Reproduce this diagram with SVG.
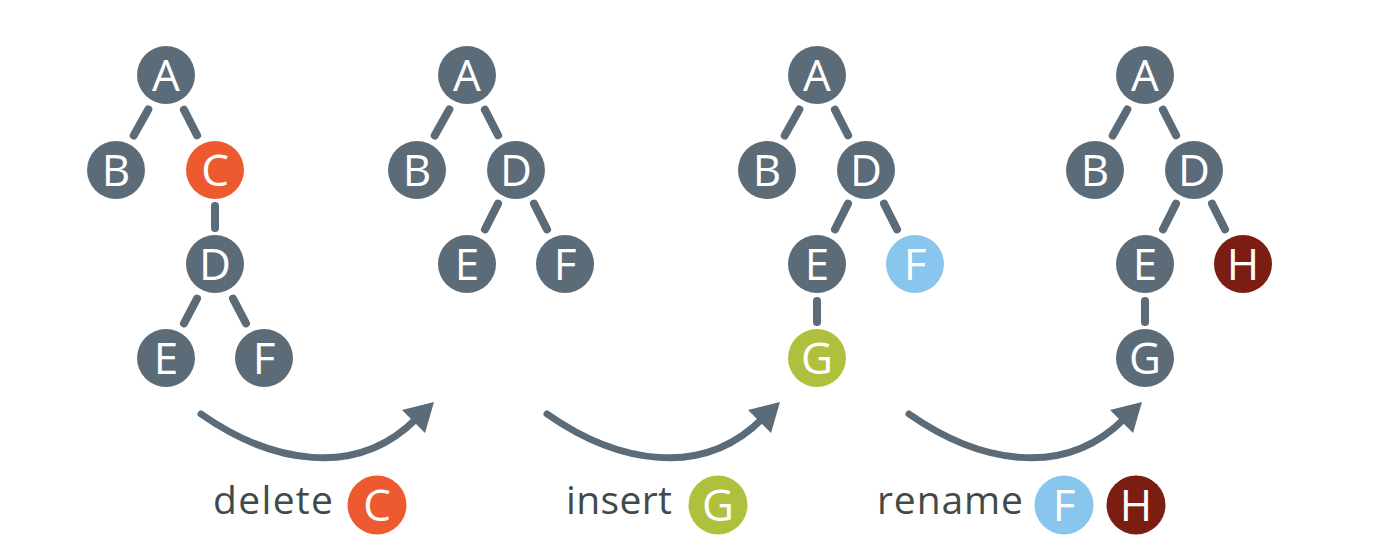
<svg xmlns="http://www.w3.org/2000/svg" width="1396" height="560" viewBox="0 0 1396 560">
<style>
.n{fill:#5c6b78}
.del{fill:#ee5a2f}
.ins{fill:#afc13c}
.old{fill:#89c6ee}
.new{fill:#7b1d10}
.lt{font-family:"Open Sans","Noto Sans","Liberation Sans",sans-serif;font-size:44px;font-weight:400;fill:#ffffff;text-anchor:middle}
.cap{font-family:"Open Sans","Noto Sans","Liberation Sans",sans-serif;font-size:39px;font-weight:400;fill:#3f4b49}
.e{stroke:#5c6b78;stroke-width:8;stroke-linecap:round;fill:none}
.arc{stroke:#5c6b78;stroke-width:7;stroke-linecap:round;fill:none}
.head{fill:#5c6b78}
</style>
<rect width="1396" height="560" fill="#ffffff"/>
<g id="connectors">
  <!-- tree 1 -->
  <line class="e" x1="148.3" y1="109.5" x2="133.7" y2="135.5"/>
  <line class="e" x1="183.9" y1="109.7" x2="197.1" y2="135.3"/>
  <line class="e" x1="215" y1="206" x2="215" y2="228"/>
  <line class="e" x1="197" y1="298.6" x2="184" y2="323.4"/>
  <line class="e" x1="233" y1="298.6" x2="246" y2="323.4"/>
  <!-- tree 2 -->
  <line class="e" x1="449.3" y1="109.5" x2="434.7" y2="135.5"/>
  <line class="e" x1="484.9" y1="109.7" x2="498.1" y2="135.3"/>
  <line class="e" x1="498" y1="203.6" x2="485" y2="229.4"/>
  <line class="e" x1="534" y1="203.6" x2="547" y2="229.4"/>
  <!-- tree 3 -->
  <line class="e" x1="799.3" y1="109.5" x2="784.7" y2="135.5"/>
  <line class="e" x1="834.9" y1="109.7" x2="848.1" y2="135.3"/>
  <line class="e" x1="848" y1="203.6" x2="835" y2="229.4"/>
  <line class="e" x1="884" y1="203.6" x2="897" y2="229.4"/>
  <line class="e" x1="817" y1="301" x2="817" y2="322"/>
  <!-- tree 4 -->
  <line class="e" x1="1127.3" y1="109.5" x2="1112.7" y2="135.5"/>
  <line class="e" x1="1162.9" y1="109.7" x2="1176.1" y2="135.3"/>
  <line class="e" x1="1176" y1="203.6" x2="1163" y2="229.4"/>
  <line class="e" x1="1212" y1="203.6" x2="1225" y2="229.4"/>
  <line class="e" x1="1145" y1="301" x2="1145" y2="322"/>
  <!-- transition arrows -->
  <path class="arc" d="M201,414 C271,463 356,479 416,419"/>
  <polygon class="head" points="434,402 402,410 425,433"/>
  <path class="arc" d="M547,414 C617,463 702,479 762,419"/>
  <polygon class="head" points="780,402 748,410 771,433"/>
  <path class="arc" d="M909,414 C979,463 1064,479 1124,419"/>
  <polygon class="head" points="1142,402 1110,410 1133,433"/>
</g>
<!-- tree 1 -->
<g id="t1-A"><circle class="n" cx="166" cy="75" r="29"/><text class="lt" x="166" y="91">A</text></g>
<g id="t1-B"><circle class="n" cx="116" cy="170" r="29"/><text class="lt" x="116" y="186">B</text></g>
<g id="t1-C"><circle class="del" cx="215" cy="170" r="29"/><text class="lt" x="215" y="186">C</text></g>
<g id="t1-D"><circle class="n" cx="215" cy="264" r="29"/><text class="lt" x="215" y="280">D</text></g>
<g id="t1-E"><circle class="n" cx="166" cy="358" r="29"/><text class="lt" x="166" y="374">E</text></g>
<g id="t1-F"><circle class="n" cx="264" cy="358" r="29"/><text class="lt" x="264" y="374">F</text></g>
<!-- tree 2 -->
<g id="t2-A"><circle class="n" cx="467" cy="75" r="29"/><text class="lt" x="467" y="91">A</text></g>
<g id="t2-B"><circle class="n" cx="417" cy="170" r="29"/><text class="lt" x="417" y="186">B</text></g>
<g id="t2-D"><circle class="n" cx="516" cy="170" r="29"/><text class="lt" x="516" y="186">D</text></g>
<g id="t2-E"><circle class="n" cx="467" cy="264" r="29"/><text class="lt" x="467" y="280">E</text></g>
<g id="t2-F"><circle class="n" cx="565" cy="264" r="29"/><text class="lt" x="565" y="280">F</text></g>
<!-- tree 3 -->
<g id="t3-A"><circle class="n" cx="817" cy="75" r="29"/><text class="lt" x="817" y="91">A</text></g>
<g id="t3-B"><circle class="n" cx="767" cy="170" r="29"/><text class="lt" x="767" y="186">B</text></g>
<g id="t3-D"><circle class="n" cx="866" cy="170" r="29"/><text class="lt" x="866" y="186">D</text></g>
<g id="t3-E"><circle class="n" cx="817" cy="264" r="29"/><text class="lt" x="817" y="280">E</text></g>
<g id="t3-F"><circle class="old" cx="915" cy="264" r="29"/><text class="lt" x="915" y="280">F</text></g>
<g id="t3-G"><circle class="ins" cx="817" cy="358" r="29"/><text class="lt" x="817" y="374">G</text></g>
<!-- tree 4 -->
<g id="t4-A"><circle class="n" cx="1145" cy="75" r="29"/><text class="lt" x="1145" y="91">A</text></g>
<g id="t4-B"><circle class="n" cx="1095" cy="170" r="29"/><text class="lt" x="1095" y="186">B</text></g>
<g id="t4-D"><circle class="n" cx="1194" cy="170" r="29"/><text class="lt" x="1194" y="186">D</text></g>
<g id="t4-E"><circle class="n" cx="1145" cy="264" r="29"/><text class="lt" x="1145" y="280">E</text></g>
<g id="t4-H"><circle class="new" cx="1243" cy="264" r="29"/><text class="lt" x="1243" y="280">H</text></g>
<g id="t4-G"><circle class="n" cx="1145" cy="358" r="29"/><text class="lt" x="1145" y="374">G</text></g>
<!-- operation labels -->
<g id="op-delete">
  <text class="cap" x="213" y="514" textLength="120" lengthAdjust="spacing">delete</text>
  <circle class="del" cx="377" cy="505" r="29.5"/><text class="lt" x="377" y="521">C</text>
</g>
<g id="op-insert">
  <text class="cap" x="566" y="514" textLength="106" lengthAdjust="spacing">insert</text>
  <circle class="ins" cx="718" cy="505" r="29.5"/><text class="lt" x="718" y="521">G</text>
</g>
<g id="op-rename">
  <text class="cap" x="877" y="514" textLength="146" lengthAdjust="spacing">rename</text>
  <circle class="old" cx="1064" cy="505" r="29.5"/><text class="lt" x="1064" y="521">F</text>
  <circle class="new" cx="1136" cy="505" r="29.5"/><text class="lt" x="1136" y="521">H</text>
</g>
</svg>
